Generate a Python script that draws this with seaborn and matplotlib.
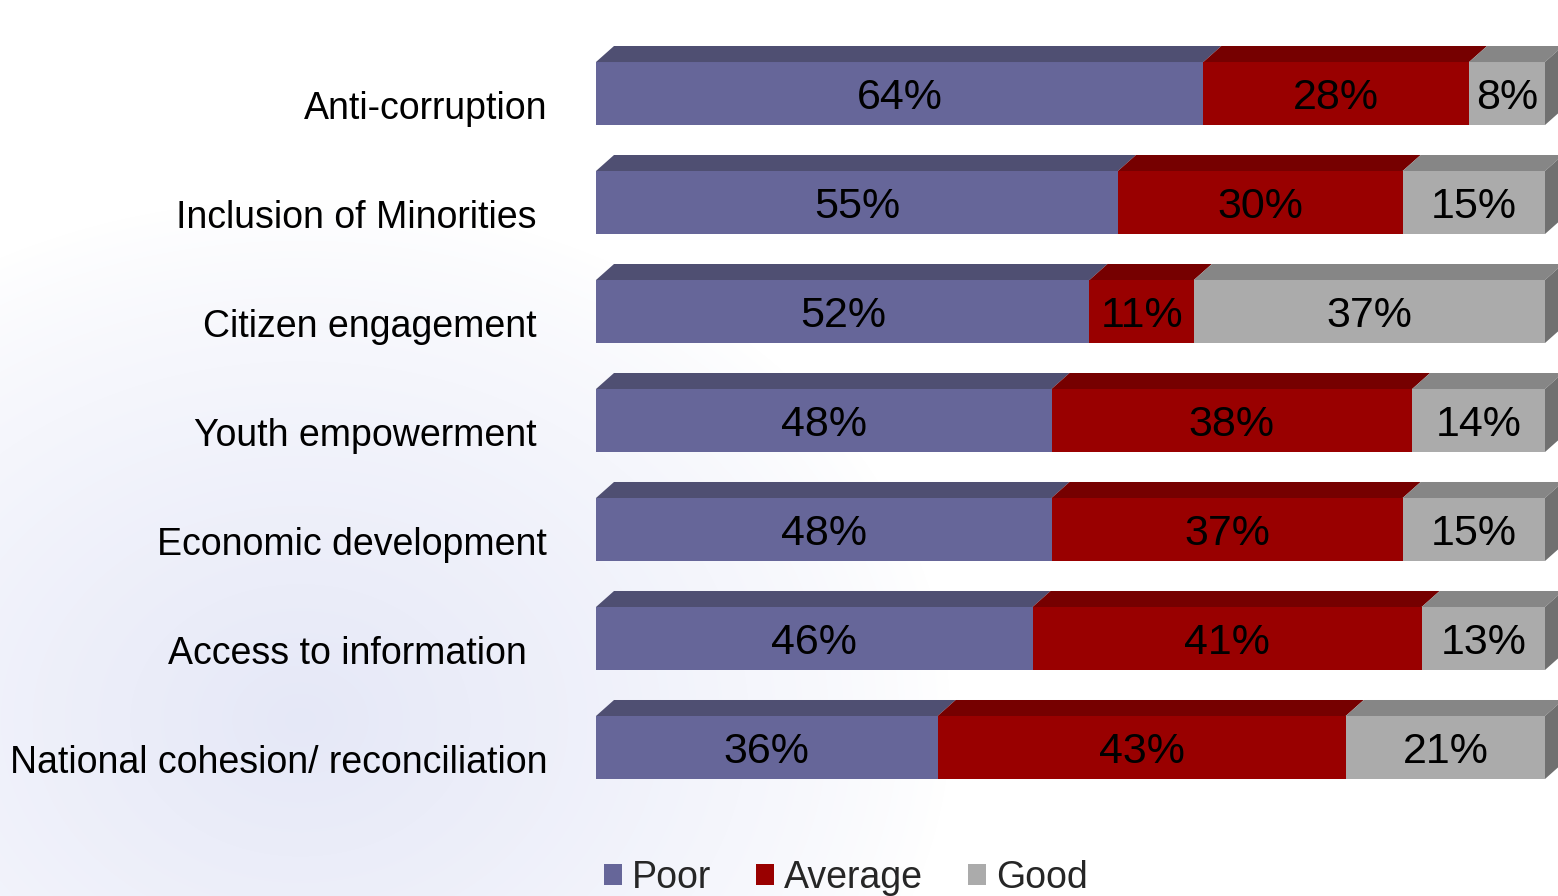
import numpy as np
import pandas as pd
import seaborn as sns
import matplotlib.pyplot as plt
from matplotlib.patches import Polygon, Patch

# labels keep the trailing spaces of the source
categories = ["Anti-corruption", "Inclusion of Minorities ", "Citizen engagement ",
              "Youth empowerment ", "Economic development", "Access to information  ",
              "National cohesion/ reconciliation"]
poor = [64, 55, 52, 48, 48, 46, 36]
average = [28, 30, 11, 38, 37, 41, 43]
good = [8, 15, 37, 14, 15, 13, 21]
series = ["Poor", "Average", "Good"]

front = {"Poor": "#666699", "Average": "#990000", "Good": "#ABABAB"}
top = {"Poor": "#4F4F72", "Average": "#760000", "Good": "#868686"}
side_col = "#707070"

sns.set_style("white")
plt.rcParams["font.family"] = ["Liberation Sans", "DejaVu Sans"]

df = pd.DataFrame({"cat": categories, "Poor": poor, "Average": average, "Good": good})
df["c1"] = df["Poor"]
df["c2"] = df["Poor"] + df["Average"]
df["c3"] = df["c2"] + df["Good"]

fig = plt.figure(figsize=(15.58, 8.96), dpi=100)

# faint watermark in the background
bg = fig.add_axes([0, 0, 1, 1], zorder=-10)
yy, xx = np.mgrid[0:896, 0:1558]
r = np.sqrt(((xx - 300) / 650.0) ** 2 + ((yy - 720) / 520.0) ** 2)
shade = np.clip(1 - r, 0, 1) ** 0.8
base = np.array([1.0, 1.0, 1.0])
tint = np.array([0.90, 0.91, 0.97])
img = base[None, None, :] * (1 - shade[..., None]) + tint[None, None, :] * shade[..., None]
bg.imshow(img, aspect="auto", extent=(0, 1, 0, 1), origin="upper")
bg.axis("off")

ax = fig.add_axes([596 / 1558, 1 - 800 / 896, 949 / 1558, 770 / 896])
ax.patch.set_alpha(0)

w = 0.578
# stacked: draw cumulative totals back to front
for col, name in [("c3", "Good"), ("c2", "Average"), ("c1", "Poor")]:
    sns.barplot(data=df, x=col, y="cat", orient="h", color=front[name],
                saturation=1, width=w, linewidth=0, ax=ax)

ax.set_xlim(0, 100)
ax.set_ylim(6.4817, -0.5826)
ax.axis("off")

dx = 18 / 9.49   # depth offset in data units (x)
dy = 16 / 109    # depth offset in data units (y)

for i, row in df.iterrows():
    yt = i - w / 2
    yb = i + w / 2
    starts = [0, row["c1"], row["c2"]]
    ends = [row["c1"], row["c2"], row["c3"]]
    vals = [row["Poor"], row["Average"], row["Good"]]
    for name, x0, x1, v in zip(series, starts, ends, vals):
        ax.add_patch(Polygon([(x0, yt), (x1, yt), (x1 + dx, yt - dy), (x0 + dx, yt - dy)],
                             closed=True, facecolor=top[name], edgecolor="none", clip_on=False))
        ax.text((x0 + x1) / 2, i + 0.04, f"{v}%", ha="center", va="center",
                fontsize=31, color="black")
    x_end = row["c3"]
    ax.add_patch(Polygon([(x_end, yt), (x_end + dx, yt - dy), (x_end + dx, yb - dy), (x_end, yb)],
                         closed=True, facecolor=side_col, edgecolor="none", clip_on=False))
    ax.text(-49 / 949, i + 0.14, row["cat"], transform=ax.get_yaxis_transform(),
            ha="right", va="center", fontsize=27, color="black")

handles = [Patch(facecolor=front[s], edgecolor="none", label=s) for s in series]
fig.legend(handles=handles, loc="center", bbox_to_anchor=(846 / 1558, 1 - 878 / 896),
           ncol=3, frameon=False, fontsize=27, handlelength=0.48, handleheight=0.48,
           handletextpad=0.27, columnspacing=1.2)

fig.savefig("out.png", dpi=100, facecolor="white")
